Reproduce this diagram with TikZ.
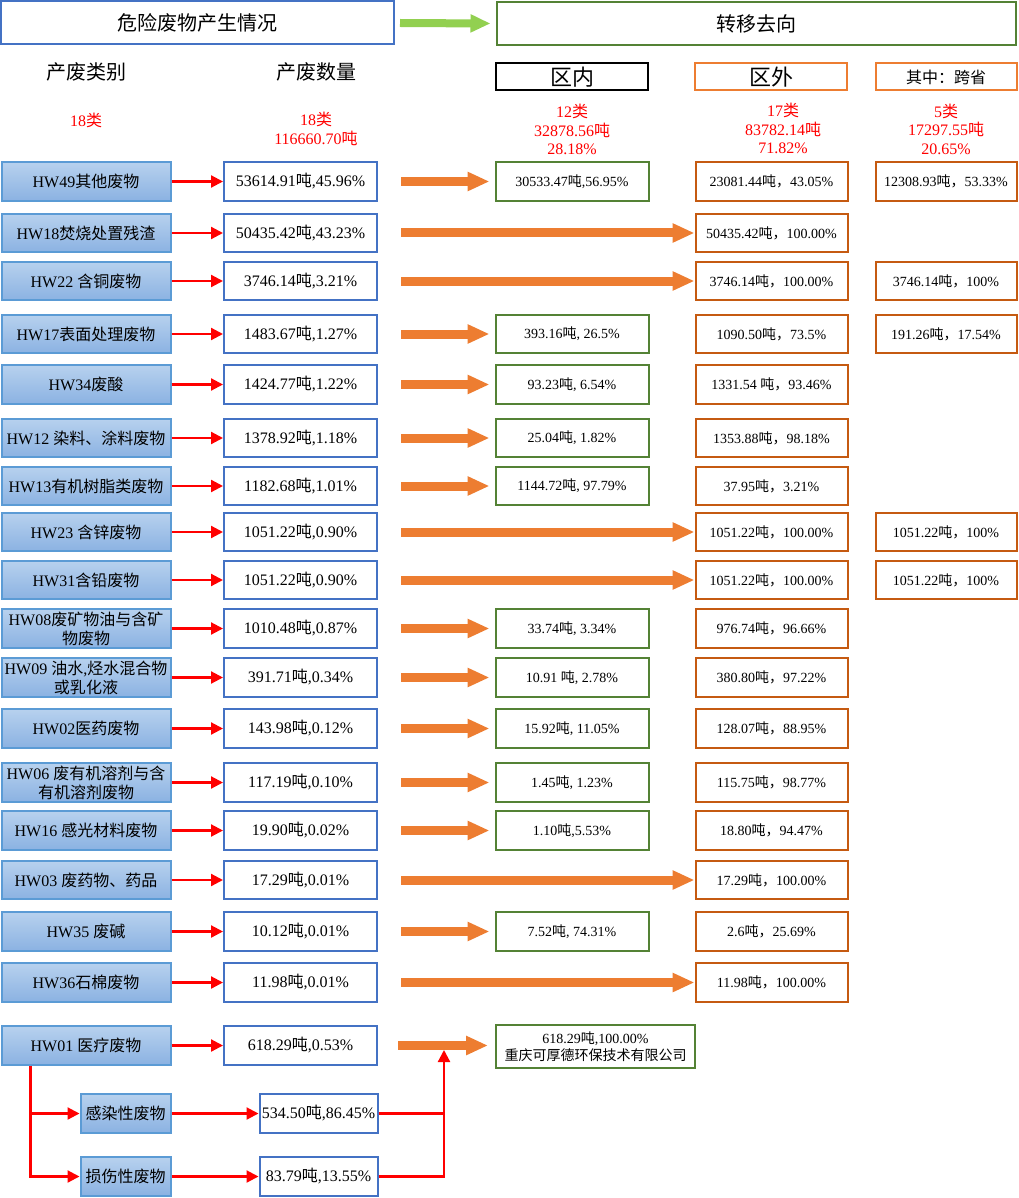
\documentclass[tikz,border=0pt]{standalone}
\usepackage{fontspec}
\setmainfont{Liberation Serif}
\newfontfamily\cjkfont{Noto Sans CJK SC}
\XeTeXinterchartokenstate=1
\newXeTeXintercharclass\cjkclass
\newcount\cjkc
\def\setcjkrange#1#2{\cjkc=#1\relax\loop\XeTeXcharclass\cjkc=\cjkclass\ifnum\cjkc<#2\advance\cjkc by 1\repeat}
\setcjkrange{"3000}{"303F}
\setcjkrange{"4E00}{"9FFF}
\setcjkrange{"FF00}{"FFEF}
\XeTeXinterchartoks 0 \cjkclass = {\cjkfont}
\XeTeXinterchartoks 4095 \cjkclass = {\cjkfont}
\XeTeXinterchartoks \cjkclass 0 = {\rmfamily}
\XeTeXinterchartoks \cjkclass 4095 = {\rmfamily}
\usetikzlibrary{arrows.meta}
\definecolor{boxblue}{HTML}{4472C4}
\definecolor{catborder}{HTML}{5B9BD5}
\definecolor{cattop}{HTML}{B7D1EE}
\definecolor{catbot}{HTML}{8BB2E2}
\definecolor{ingreen}{HTML}{548235}
\definecolor{outorange}{HTML}{C55A11}
\definecolor{hdrorange}{HTML}{ED7D31}
\definecolor{arroworange}{HTML}{ED7D31}
\definecolor{hdrgreen}{HTML}{92D050}
\newcommand\fs[2]{\fontsize{#1}{#2}\selectfont}
\newcommand\mainrow[4]{%
  \node[catbox] (c#1) at (86,#2) {#3};
  \node[cntbox] (n#1) at (300.5,#2) {#4};
  \draw[redarr] (c#1) -- (n#1);}
\begin{document}
\begin{tikzpicture}[x=1pt,y=-1pt,
  base/.style={draw, line width=2pt, inner sep=0pt, minimum height=38.5pt, align=center},
  catbox/.style={base, draw=catborder, top color=cattop, bottom color=catbot, minimum width=169pt, font=\fs{16}{19}},
  cntbox/.style={base, draw=boxblue, fill=white, minimum width=153pt, font=\fs{16}{19}},
  inbox/.style={base, draw=ingreen, minimum width=153pt, font=\fs{14}{17}},
  outbox/.style={base, draw=outorange, minimum width=152pt, font=\fs{14}{17}},
  provbox/.style={base, draw=outorange, minimum width=141pt, font=\fs{14}{17}},
  redtxt/.style={text=red, inner sep=0pt, align=center, font=\fs{16}{18.5}},
  redarr/.style={draw=red, line width=2.2pt, -{Triangle[length=12pt,width=12pt]}},
  redline/.style={draw=red, line width=2.2pt},
  bigarr/.style={draw=arroworange, line width=9pt, -{Triangle[length=22pt,width=18pt]}}]
\useasboundingbox (0,0) rectangle (1018,1198);

% headers
\node[base, draw=boxblue, minimum width=393pt, minimum height=43pt, font=\fs{20}{24}] (h1) at (197.5,23) {危险废物产生情况};
\node[base, draw=ingreen, minimum width=519pt, minimum height=43pt, font=\fs{20}{24}] (h2) at (756,23.5) {转移去向};
\draw[hdrgreen, line width=8pt, -{Triangle[length=20pt,width=17pt]}] ([xshift=5pt]h1.east) -- ([xshift=-5pt]h2.west);

\node[font=\fs{20}{24}, inner sep=0pt] (t1) at (86,72) {产废类别};
\node[font=\fs{20}{24}, inner sep=0pt] (t2) at (316,72) {产废数量};
\node[base, draw=black, minimum width=152pt, minimum height=27pt, font=\fs{22}{26}] (t3) at (572,77) {区内};
\node[base, draw=hdrorange, minimum width=152pt, minimum height=27pt, font=\fs{22}{26}] (t4) at (771,77) {区外};
\node[base, draw=hdrorange, minimum width=141pt, minimum height=27pt, font=\fs{16}{19}] (t5) at (946,77) {其中：跨省};

\node[redtxt] (r1) at (86,120) {18类};
\node[redtxt] (r2) at (316,129) {18类\\116660.70吨};
\node[redtxt] (r3) at (572,129.5) {12类\\32878.56吨\\28.18\%};
\node[redtxt] (r4) at (783,128.5) {17类\\83782.14吨\\71.82\%};
\node[redtxt] (r5) at (946,129) {5类\\17297.55吨\\20.65\%};

% rows
\mainrow{1}{181.5}{HW49其他废物}{53614.91吨,45.96\%}
\node[inbox] (i1) at (572,181.5) {30533.47吨,56.95\%};
\node[outbox] (o1) at (771.5,181.5) {23081.44吨，43.05\%};
\node[provbox] (p1) at (946,181.5) {12308.93吨，53.33\%};
\draw[bigarr] ([xshift=23pt]n1.east) -- ([xshift=-5pt]i1.west);

\mainrow{2}{233}{HW18焚烧处置残渣}{50435.42吨,43.23\%}
\node[outbox] (o2) at (771.5,233) {50435.42吨，100.00\%};
\draw[bigarr] ([xshift=23pt]n2.east) -- (o2.west);

\mainrow{3}{281}{HW22 含铜废物}{3746.14吨,3.21\%}
\node[outbox] (o3) at (771.5,281) {3746.14吨，100.00\%};
\node[provbox] (p3) at (946,281) {3746.14吨，100\%};
\draw[bigarr] ([xshift=23pt]n3.east) -- (o3.west);

\mainrow{4}{334}{HW17表面处理废物}{1483.67吨,1.27\%}
\node[inbox] (i4) at (572,334) {393.16吨, 26.5\%};
\node[outbox] (o4) at (771.5,334) {1090.50吨，73.5\%};
\node[provbox] (p4) at (946,334) {191.26吨，17.54\%};
\draw[bigarr] ([xshift=23pt]n4.east) -- ([xshift=-5pt]i4.west);

\mainrow{5}{384.5}{HW34废酸}{1424.77吨,1.22\%}
\node[inbox] (i5) at (572,384.5) {93.23吨, 6.54\%};
\node[outbox] (o5) at (771.5,384.5) {1331.54 吨，93.46\%};
\draw[bigarr] ([xshift=23pt]n5.east) -- ([xshift=-5pt]i5.west);

\mainrow{6}{438}{HW12 染料、涂料废物}{1378.92吨,1.18\%}
\node[inbox] (i6) at (572,438) {25.04吨, 1.82\%};
\node[outbox] (o6) at (771.5,438) {1353.88吨，98.18\%};
\draw[bigarr] ([xshift=23pt]n6.east) -- ([xshift=-5pt]i6.west);

\mainrow{7}{486}{HW13有机树脂类废物}{1182.68吨,1.01\%}
\node[inbox] (i7) at (572,486) {1144.72吨, 97.79\%};
\node[outbox] (o7) at (771.5,486) {37.95吨，3.21\%};
\draw[bigarr] ([xshift=23pt]n7.east) -- ([xshift=-5pt]i7.west);

\mainrow{8}{532}{HW23 含锌废物}{1051.22吨,0.90\%}
\node[outbox] (o8) at (771.5,532) {1051.22吨，100.00\%};
\node[provbox] (p8) at (946,532) {1051.22吨，100\%};
\draw[bigarr] ([xshift=23pt]n8.east) -- (o8.west);

\mainrow{9}{580}{HW31含铅废物}{1051.22吨,0.90\%}
\node[outbox] (o9) at (771.5,580) {1051.22吨，100.00\%};
\node[provbox] (p9) at (946,580) {1051.22吨，100\%};
\draw[bigarr] ([xshift=23pt]n9.east) -- (o9.west);

\mainrow{10}{628.5}{HW08废矿物油与含矿\\物废物}{1010.48吨,0.87\%}
\node[inbox] (i10) at (572,628.5) {33.74吨, 3.34\%};
\node[outbox] (o10) at (771.5,628.5) {976.74吨，96.66\%};
\draw[bigarr] ([xshift=23pt]n10.east) -- ([xshift=-5pt]i10.west);

\mainrow{11}{677.5}{HW09 油水,烃水混合物\\或乳化液}{391.71吨,0.34\%}
\node[inbox] (i11) at (572,677.5) {10.91 吨, 2.78\%};
\node[outbox] (o11) at (771.5,677.5) {380.80吨，97.22\%};
\draw[bigarr] ([xshift=23pt]n11.east) -- ([xshift=-5pt]i11.west);

\mainrow{12}{728.5}{HW02医药废物}{143.98吨,0.12\%}
\node[inbox] (i12) at (572,728.5) {15.92吨, 11.05\%};
\node[outbox] (o12) at (771.5,728.5) {128.07吨，88.95\%};
\draw[bigarr] ([xshift=23pt]n12.east) -- ([xshift=-5pt]i12.west);

\mainrow{13}{782.5}{HW06 废有机溶剂与含\\有机溶剂废物}{117.19吨,0.10\%}
\node[inbox] (i13) at (572,782.5) {1.45吨, 1.23\%};
\node[outbox] (o13) at (771.5,782.5) {115.75吨，98.77\%};
\draw[bigarr] ([xshift=23pt]n13.east) -- ([xshift=-5pt]i13.west);

\mainrow{14}{830.5}{HW16 感光材料废物}{19.90吨,0.02\%}
\node[inbox] (i14) at (572,830.5) {1.10吨,5.53\%};
\node[outbox] (o14) at (771.5,830.5) {18.80吨，94.47\%};
\draw[bigarr] ([xshift=23pt]n14.east) -- ([xshift=-5pt]i14.west);

\mainrow{15}{880}{HW03 废药物、药品}{17.29吨,0.01\%}
\node[outbox] (o15) at (771.5,880) {17.29吨，100.00\%};
\draw[bigarr] ([xshift=23pt]n15.east) -- (o15.west);

\mainrow{16}{931.5}{HW35 废碱}{10.12吨,0.01\%}
\node[inbox] (i16) at (572,931.5) {7.52吨, 74.31\%};
\node[outbox] (o16) at (771.5,931.5) {2.6吨，25.69\%};
\draw[bigarr] ([xshift=23pt]n16.east) -- ([xshift=-5pt]i16.west);

\mainrow{17}{982.5}{HW36石棉废物}{11.98吨,0.01\%}
\node[outbox] (o17) at (771.5,982.5) {11.98吨，100.00\%};
\draw[bigarr] ([xshift=23pt]n17.east) -- (o17.west);

% HW01
\mainrow{18}{1045.5}{HW01 医疗废物}{618.29吨,0.53\%}
\node[inbox, minimum width=199pt, minimum height=43pt] (co) at (595.5,1046.5) {618.29吨,100.00\%\\重庆可厚德环保技术有限公司};
\coordinate (oa) at ([xshift=20pt]n18.east);
\draw[bigarr] (oa) -- ([xshift=-7pt]co.west |- oa);

\node[catbox, minimum width=90pt] (s1) at (125.5,1113.5) {感染性废物};
\node[cntbox, minimum width=118pt] (s1n) at (318.5,1113.5) {534.50吨,86.45\%};
\node[catbox, minimum width=90pt] (s2) at (125.5,1176.5) {损伤性废物};
\node[cntbox, minimum width=118pt] (s2n) at (318.5,1176.5) {83.79吨,13.55\%};

\coordinate (tr) at ([xshift=30pt]c18.south west);
\draw[redarr] (tr) |- (s1.west);
\draw[redarr] (tr) |- (s2.west);
\draw[redarr] (s1) -- (s1n);
\draw[redarr] (s2) -- (s2n);
\coordinate (jn) at (444,1050);
\draw[redline] (s1n.east) -- (s1n.east -| jn);
\draw[redarr] (s2n.east) -| (jn);
\end{tikzpicture}
\end{document}
